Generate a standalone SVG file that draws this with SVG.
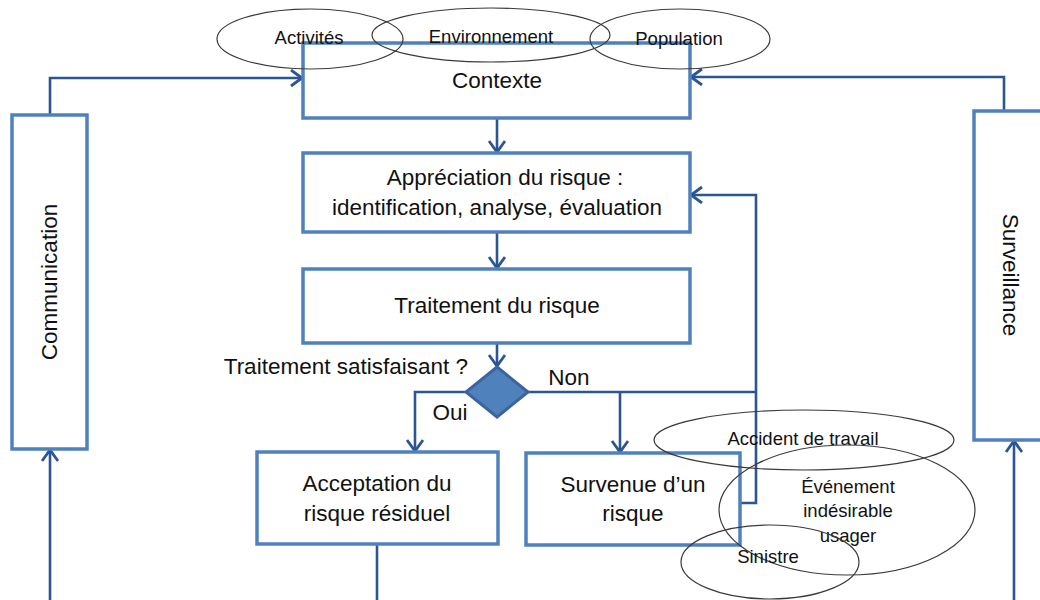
<svg xmlns="http://www.w3.org/2000/svg" width="1040" height="600" viewBox="0 0 1040 600">
<defs>
<style>
.box{fill:#fff;stroke:#4F81BD;stroke-width:3.5}
.con{fill:none;stroke:#2C5594;stroke-width:2.6}
.ell{fill:none;stroke:#3a3a3a;stroke-width:1.2}
.t{font-family:"Liberation Sans",Arial,sans-serif;font-size:22.5px;fill:#111;text-anchor:middle}
.s{font-family:"Liberation Sans",Arial,sans-serif;font-size:18.5px;fill:#111;text-anchor:middle}
</style>
<marker id="arr" markerUnits="userSpaceOnUse" markerWidth="16" markerHeight="20" refX="12" refY="9" orient="auto" viewBox="0 0 16 20">
<path d="M1,1 L12,9 L1,17" fill="none" stroke="#2C5594" stroke-width="2.8"/>
</marker>
</defs>
<rect width="1040" height="600" fill="#fff"/>

<g id="connectors">
<path class="con" d="M497,118 L497,152" marker-end="url(#arr)"/>
<path class="con" d="M497,232 L497,268" marker-end="url(#arr)"/>
<path class="con" d="M497,343 L497,366" marker-end="url(#arr)"/>
<path class="con" d="M466,392 L415,392 L415,451" marker-end="url(#arr)"/>
<path class="con" d="M528,392 L756,392"/>
<path class="con" d="M620,392 L620,452" marker-end="url(#arr)"/>
<path class="con" d="M740,503 L756,503 L756,195 L691,195" marker-end="url(#arr)"/>
<path class="con" d="M377,544 L377,600"/>
<path class="con" d="M50,600 L50,450" marker-end="url(#arr)"/>
<path class="con" d="M50,115 L50,78 L302,78" marker-end="url(#arr)"/>
<path class="con" d="M1004,111 L1004,77 L691,77" marker-end="url(#arr)"/>
<path class="con" d="M1014,600 L1014,441" marker-end="url(#arr)"/>
</g>

<g id="contexte">
<rect class="box" x="303" y="43" width="387" height="75"/>
<text class="t" x="497" y="88">Contexte</text>
</g>
<g id="appreciation">
<rect class="box" x="303" y="153" width="387" height="79"/>
<text class="t" x="505" y="185">Appréciation du risque :</text>
<text class="t" x="497" y="215">identification, analyse, évaluation</text>
</g>
<g id="traitement">
<rect class="box" x="303" y="269" width="387" height="74"/>
<text class="t" x="497" y="313">Traitement du risque</text>
</g>
<g id="decision">
<polygon points="497,367 528,392 497,417 466,392" fill="#4F81BD" stroke="#3B64A0" stroke-width="3"/>
<text class="t" x="468" y="374" style="text-anchor:end">Traitement satisfaisant ?</text>
<text class="t" x="569" y="385">Non</text>
<text class="t" x="450" y="420">Oui</text>
</g>
<g id="acceptation">
<rect class="box" x="257" y="452" width="241" height="92"/>
<text class="t" x="377" y="491">Acceptation du</text>
<text class="t" x="377" y="521">risque résiduel</text>
</g>
<g id="survenue">
<rect class="box" x="526" y="453" width="214" height="92"/>
<text class="t" x="633" y="492">Survenue d’un</text>
<text class="t" x="633" y="521">risque</text>
</g>
<g id="communication">
<rect class="box" x="12" y="115" width="75" height="334"/>
<text class="t" transform="translate(57,282) rotate(-90)">Communication</text>
</g>
<g id="surveillance">
<rect class="box" x="974" y="111" width="80" height="329"/>
<text class="t" transform="translate(1003,275) rotate(90)">Surveillance</text>
</g>

<g id="activites">
<ellipse class="ell" cx="310" cy="39" rx="93" ry="30"/>
<text class="s" x="309" y="44">Activités</text>
</g>
<g id="environnement">
<ellipse class="ell" cx="491" cy="35" rx="119" ry="27"/>
<text class="s" x="491" y="43">Environnement</text>
</g>
<g id="population">
<ellipse class="ell" cx="680" cy="39" rx="90" ry="30"/>
<text class="s" x="679" y="45">Population</text>
</g>
<g id="accident">
<ellipse class="ell" cx="804" cy="440" rx="150" ry="30"/>
<text class="s" x="803" y="445">Accident de travail</text>
</g>
<g id="evenement">
<ellipse class="ell" cx="847" cy="510" rx="128" ry="65"/>
<text class="s" x="848" y="493">Événement</text>
<text class="s" x="848" y="517">indésirable</text>
<text class="s" x="848" y="542">usager</text>
</g>
<g id="sinistre">
<ellipse class="ell" cx="770" cy="562" rx="89" ry="37"/>
<text class="s" x="768" y="563">Sinistre</text>
</g>
</svg>
